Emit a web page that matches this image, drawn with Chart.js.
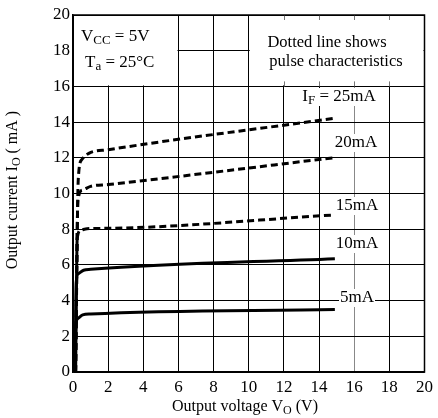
<!DOCTYPE html>
<html>
<head>
<meta charset="utf-8">
<script src="https://cdn.jsdelivr.net/npm/chart.js@4.4.1/dist/chart.umd.min.js"></script>
<style>
  html, body { margin: 0; padding: 0; background: #fff; }
  #wrap { width: 438px; height: 418px; }
</style>
</head>
<body>
<div id="wrap"><canvas id="myChart" width="438" height="418"></canvas></div>
<script>
// values (Vo in V, Io in mA)
const vo5 = [0.12, 0.16, 0.28, 0.55, 1, 14.9];
const io5 = [0, 2.6, 3.0, 3.2, 3.25, 3.5];
const vo10 = [0.12, 0.18, 0.3, 0.6, 1, 14.9];
const io10 = [0, 5.0, 5.5, 5.7, 5.75, 6.35];
const vo15 = [0.15, 0.24, 0.45, 0.8, 2, 14.9];
const io15 = [0, 7.5, 7.95, 8.03, 8.05, 8.8];
const vo20 = [0.15, 0.28, 0.55, 1, 2, 14.8];
const io20 = [0, 9.6, 10.2, 10.4, 10.5, 12.0];
const vo25 = [0.15, 0.3, 0.5, 0.9, 2, 14.8];
const io25 = [0, 10.8, 11.9, 12.25, 12.45, 14.2];
const curveNames = ['5mA', '10mA', '15mA', '20mA', '25mA'];
const pulsed = [false, false, true, true, true];

const serif = '"Liberation Serif", "DejaVu Serif", serif';

const toPts = (xs, ys) => xs.map((x, i) => ({ x: x, y: ys[i] }));
const series = [toPts(vo5, io5), toPts(vo10, io10), toPts(vo15, io15), toPts(vo20, io20), toPts(vo25, io25)];

const datasets = series.map((pts, i) => ({
  label: curveNames[i],
  data: pts,
  borderColor: '#000',
  borderWidth: 3,
  pointRadius: 0,
  fill: false,
  cubicInterpolationMode: 'monotone',
  segment: {
    borderDash: ctx => {
      if (!pulsed[i]) return [];
      if (i === 2 && ctx.p0DataIndex < 1) return [];
      return [7, 4];
    }
  }
}));

// draws text with optional subscript parts: [[text, isSub], ...]
function drawParts(ctx, x, y, parts, size, align) {
  const subSize = Math.round(size * 0.75);
  let total = 0;
  parts.forEach(p => {
    ctx.font = (p[1] ? subSize : size) + 'px ' + serif;
    total += ctx.measureText(p[0]).width;
  });
  let cx = align === 'center' ? x - total / 2 : x;
  ctx.textAlign = 'left';
  ctx.textBaseline = 'middle';
  parts.forEach(p => {
    ctx.font = (p[1] ? subSize : size) + 'px ' + serif;
    ctx.fillText(p[0], cx, p[1] ? y + 4 : y);
    cx += ctx.measureText(p[0]).width;
  });
  return total;
}

const notesPlugin = {
  id: 'notes',
  beforeDatasetsDraw(chart) {
    const ctx = chart.ctx;
    const xs = chart.scales.x, ys = chart.scales.y;
    ctx.save();
    ctx.fillStyle = '#fff';
    const y0 = ys.getPixelForValue(20), y1 = ys.getPixelForValue(16);
    // condition box (0..6) and note box (10..20)
    [[0, 6], [10, 20]].forEach(b => {
      const x0 = xs.getPixelForValue(b[0]), x1 = xs.getPixelForValue(b[1]);
      ctx.fillRect(x0 + 1, y0 + 1, x1 - x0 - 2, y1 - y0 - 2);
    });
    // short grey ticks left in note box
    ctx.strokeStyle = '#777';
    ctx.lineWidth = 1;
    [12, 14, 16, 18].forEach(v => {
      const px = Math.round(xs.getPixelForValue(v)) + 0.5;
      ctx.beginPath();
      ctx.moveTo(px, y0); ctx.lineTo(px, y0 + 5);
      ctx.moveTo(px, y1); ctx.lineTo(px, y1 - 5);
      ctx.stroke();
    });
    ctx.fillStyle = '#000';
    drawParts(ctx, 81, 37, [['V', false], ['CC', true], [' = 5V', false]], 17, 'left');
    drawParts(ctx, 85, 63, [['T', false], ['a', true], [' = 25', false], ['°', false], ['C', false]], 17, 'left');
    ctx.font = '16.5px ' + serif;
    ctx.textAlign = 'center';
    ctx.textBaseline = 'middle';
    ctx.fillText('Dotted line shows', 327, 43);
    ctx.fillText('pulse characteristics', 336, 62);
    ctx.restore();
  },
  afterDatasetsDraw(chart) {
    const ctx = chart.ctx;
    const a = chart.chartArea;
    ctx.save();
    ctx.strokeStyle = '#000';
    ctx.lineWidth = 1.5;
    ctx.strokeRect(a.left, a.top, a.right - a.left, a.bottom - a.top);
    const labels = [
      [[['I', false], ['F', true], [' = 25mA', false]], 339, 97],
      [[['20mA', false]], 356, 143],
      [[['15mA', false]], 357, 206],
      [[['10mA', false]], 357, 244],
      [[['5mA', false]], 357, 298]
    ];
    labels.forEach(l => {
      ctx.fillStyle = '#000';
      const w = drawParts(ctx, -999, -999, l[0], 17, 'left');
      ctx.fillStyle = '#fff';
      ctx.fillRect(l[1] - w / 2 - 1, l[2] - 9, w + 2, 18);
      ctx.fillStyle = '#000';
      drawParts(ctx, l[1], l[2], l[0], 17, 'center');
    });
    // axis titles
    drawParts(ctx, 245, 407, [['Output voltage V', false], ['O', true], [' (V)', false]], 16, 'center');
    ctx.translate(13, 190);
    ctx.rotate(-Math.PI / 2);
    drawParts(ctx, 0, 0, [['Output current I', false], ['O', true], [' ( mA )', false]], 16, 'center');
    ctx.restore();
  }
};

new Chart(document.getElementById('myChart'), {
  type: 'line',
  data: { datasets: datasets },
  options: {
    responsive: false,
    animation: false,
    events: [],
    layout: { padding: { left: 0, top: 15, right: 6, bottom: 0 } },
    plugins: { legend: { display: false }, tooltip: { enabled: false } },
    scales: {
      x: {
        type: 'linear', min: 0, max: 20,
        ticks: { stepSize: 2, color: '#000', font: { family: serif, size: 17 }, padding: 5 },
        grid: { color: ctx => ctx.tick && ctx.tick.value === 16 ? '#888' : '#000', lineWidth: 1, drawTicks: false },
        border: { color: '#000', width: 1.5 },
        afterFit: s => { s.height = 46; }
      },
      y: {
        type: 'linear', min: 0, max: 20,
        ticks: { stepSize: 2, color: '#000', font: { family: serif, size: 17 }, padding: 3 },
        grid: { color: '#000', lineWidth: 1, drawTicks: false },
        border: { color: '#000', width: 1.5 },
        afterFit: s => { s.width = 73; }
      }
    }
  },
  plugins: [notesPlugin]
});
</script>
</body>
</html>
